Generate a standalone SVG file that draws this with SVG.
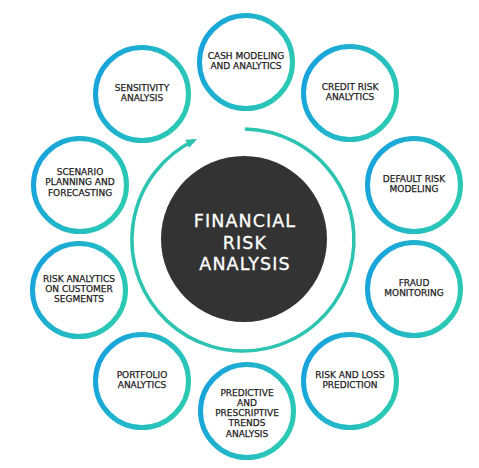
<svg xmlns="http://www.w3.org/2000/svg" width="479" height="468" viewBox="0 0 479 468">
<defs>
<linearGradient id="ring" x1="0" y1="0.3" x2="1" y2="0.7">
<stop offset="0" stop-color="#18a3dc"/>
<stop offset="1" stop-color="#2ccbb2"/>
</linearGradient>
<marker id="ah" markerUnits="userSpaceOnUse" markerWidth="11" markerHeight="10" refX="8" refY="5" orient="auto">
<path d="M0,0.5 L11,5 L0,9.5 Z" fill="#2cc3b0"/>
</marker>
<style>
.node circle{fill:#fff;stroke:url(#ring);stroke-width:5}
.node text{font-family:"DejaVu Sans",sans-serif;font-size:9px;fill:#1e1e1e;stroke:#1e1e1e;stroke-width:0.25;text-anchor:middle}
.core text{font-family:"DejaVu Sans",sans-serif;font-size:17.5px;fill:#fff;stroke:#fff;stroke-width:0.3;text-anchor:middle;letter-spacing:1.1px}
</style>
</defs>
<rect width="479" height="468" fill="#fff"/>
<g id="connectors">
<path d="M244.9,129 A111,111 0 1 1 194.3,140.2" fill="none" stroke="#2cc3b0" stroke-width="3.5" marker-end="url(#ah)"/>
</g>
<g id="center" class="core">
<circle cx="244" cy="239" r="83" fill="#333333"/>
<text x="245" y="227">FINANCIAL</text>
<text x="245" y="249">RISK</text>
<text x="245" y="270">ANALYSIS</text>
</g>
<g id="n1" class="node"><circle cx="246" cy="62" r="46.5"/>
<text x="246" y="59">CASH MODELING</text><text x="246" y="69.3">AND ANALYTICS</text></g>
<g id="n2" class="node"><circle cx="350" cy="93" r="46.5"/>
<text x="350" y="90">CREDIT RISK</text><text x="350" y="100.3">ANALYTICS</text></g>
<g id="n3" class="node"><circle cx="414" cy="185" r="46.5"/>
<text x="414" y="182">DEFAULT RISK</text><text x="414" y="192.3">MODELING</text></g>
<g id="n4" class="node"><circle cx="414" cy="289" r="46.5"/>
<text x="414" y="286">FRAUD</text><text x="414" y="296.3">MONITORING</text></g>
<g id="n5" class="node"><circle cx="350" cy="381" r="46.5"/>
<text x="350" y="378">RISK AND LOSS</text><text x="350" y="388.3">PREDICTION</text></g>
<g id="n6" class="node"><circle cx="247" cy="411" r="46.5"/>
<text x="247" y="395.5">PREDICTIVE</text><text x="247" y="405.8">AND</text><text x="247" y="416.1">PRESCRIPTIVE</text><text x="247" y="426.4">TRENDS</text><text x="247" y="436.7">ANALYSIS</text></g>
<g id="n7" class="node"><circle cx="142" cy="381" r="46.5"/>
<text x="142" y="378">PORTFOLIO</text><text x="142" y="388.3">ANALYTICS</text></g>
<g id="n8" class="node"><circle cx="79" cy="290" r="46.5"/>
<text x="79" y="281.5">RISK ANALYTICS</text><text x="79" y="291.8">ON CUSTOMER</text><text x="79" y="302.1">SEGMENTS</text></g>
<g id="n9" class="node"><circle cx="80" cy="185" r="46.5"/>
<text x="80" y="175">SCENARIO</text><text x="80" y="185.3">PLANNING AND</text><text x="80" y="195.6">FORECASTING</text></g>
<g id="n10" class="node"><circle cx="142" cy="94" r="46.5"/>
<text x="142" y="91">SENSITIVITY</text><text x="142" y="101.3">ANALYSIS</text></g>
</svg>
